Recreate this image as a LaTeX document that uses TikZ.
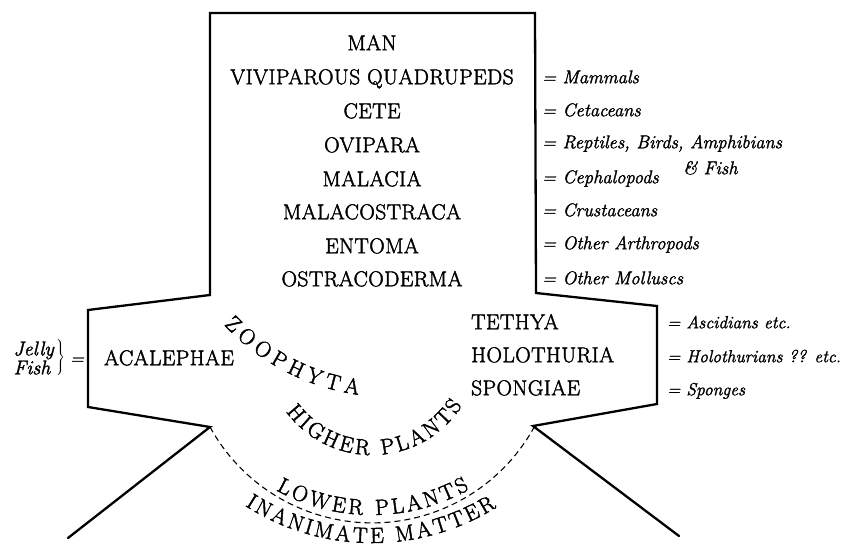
\documentclass[tikz,border=0pt]{standalone}
\usepackage{fontspec}
\usetikzlibrary{decorations.text}
\newfontfamily\capsfont[LetterSpace=2, FakeBold=2]{Latin Modern Roman}
\newfontfamily\arcfont[FakeBold=2]{Latin Modern Roman}
\newfontfamily\handfont[FakeBold=1.6]{Latin Modern Roman}
\begin{document}
\begin{tikzpicture}[x=1pt,y=-1pt,
  taxon/.style={font=\fontsize{21.5}{23}\capsfont, inner sep=0pt, text height=14.5pt, text depth=0pt},
  taxonl/.style={taxon, anchor=west},
  gloss/.style={font=\fontsize{18.5}{20}\handfont\itshape, anchor=west, inner sep=0pt, text height=12.5pt, text depth=0pt},
  glossl/.style={gloss, font=\fontsize{17.5}{19}\handfont\itshape},
  outline/.style={line width=2.3pt, line join=miter, line cap=round},
  boundary/.style={line width=1.1pt, dash pattern=on 6pt off 4pt},
  arctext/.style={decorate, decoration={text along path, text align={fit to path}, text={|\fontsize{22}{22}\arcfont|#1}}}
]
\fill[white] (0,0) rectangle (844,546);
\useasboundingbox (0,0) rectangle (844,546);

% outline
\coordinate (bl) at (68,538);
\coordinate (L) at (210,427);
\coordinate (lb) at (88,407);
\coordinate (lt) at (88,310);
\coordinate (ls) at (210,295);
\coordinate (tl) at (210,13);
\coordinate (tr) at (535,13);
\coordinate (rs) at (536,293);
\coordinate (rt) at (657,306);
\coordinate (rb) at (657,404);
\coordinate (R) at (533,426);
\coordinate (br) at (679,536);
\draw[outline] (bl) -- (L) -- (lb) -- (lt) -- (ls) -- (tl) -- (tr) -- (rs) -- (rt) -- (rb) -- (R) -- (br);
\draw[boundary] (L) arc[start angle=151.2, end angle=28.7, radius=185];

% upper column
\node[taxon] (man) at (372,43) {MAN};
\node[taxon] (vq) at (372,77) {VIVIPAROUS QUADRUPEDS};
\node[taxon] (cete) at (372,111) {CETE};
\node[taxon] (ovi) at (372,145) {OVIPARA};
\node[taxon] (mal) at (372,179) {MALACIA};
\node[taxon] (malc) at (372,212) {MALACOSTRACA};
\node[taxon] (ent) at (372,246) {ENTOMA};
\node[taxon] (ost) at (372,279) {OSTRACODERMA};

\node[gloss] (g1) at (542,77) {= Mammals};
\node[gloss] (g2) at (542,110) {= Cetaceans};
\node[gloss] (g3) at (542,142) {= Reptiles, Birds, Amphibians};
\node[gloss] (g3b) at (683,168) {\& Fish};
\node[gloss] (g4) at (542,177) {= Cephalopods};
\node[gloss] (g5) at (542,210) {= Crustaceans};
\node[gloss] (g6) at (542,243) {= Other Arthropods};
\node[gloss] (g7) at (542,278) {= Other Molluscs};

% middle band
\node[taxon] (acal) at (169,358) {ACALEPHAE};
\node[taxonl] (teth) at (471,322) {TETHYA};
\node[taxonl] (holo) at (471,355) {HOLOTHURIA};
\node[taxonl] (spon) at (471,388) {SPONGIAE};

\node[glossl] (g8) at (667,322) {= Ascidians etc.};
\node[glossl] (g9) at (667,356) {= Holothurians ?? etc.};
\node[glossl] (g10) at (667,389) {= Sponges};

\node[anchor=east, inner sep=0pt, align=left, font=\fontsize{20}{16}\handfont\itshape] (jelly) at (54,358) {Jelly\\Fish};
\node[inner sep=0pt] (jbr) at (60,358) {$\left.\vrule height 17pt depth 17pt width 0pt\right\}$};
\node[gloss, anchor=center] (jeq) at (77,358) {=};

% curved labels
\coordinate (zc) at (390,170);
\coordinate (hc) at (372,348);
\coordinate (lc) at (372,317);
\coordinate (ic) at (372,308);
\path[arctext={ZOOPHYTA}] (zc) ++(137:227) arc[start angle=137, end angle=98, radius=227];
\path[arctext={HIGHER PLANTS}] (hc) ++(143.5:107) arc[start angle=143.5, end angle=32.5, radius=107];
\path[arctext={LOWER PLANTS}] (lc) ++(119:198) arc[start angle=119, end angle=60.5, radius=198];
\path[arctext={INANIMATE MATTER}] (ic) ++(122.7:235) arc[start angle=122.7, end angle=58, radius=235];
\end{tikzpicture}
\end{document}
